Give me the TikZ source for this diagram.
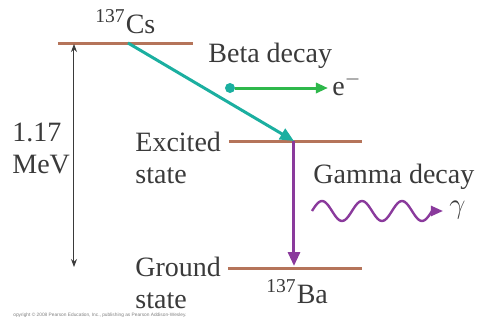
\documentclass[tikz,border=0pt]{standalone}
\usepackage{fontspec}
\setmainfont{Liberation Serif}
\newfontfamily\notefont{Liberation Sans}
\usetikzlibrary{arrows.meta}
\definecolor{lvlbrown}{HTML}{B5745A}
\definecolor{betateal}{HTML}{1BAFA0}
\definecolor{elecgreen}{HTML}{2EB84B}
\definecolor{gampurple}{HTML}{8A3A9C}
\definecolor{ink}{HTML}{3A3A3A}

\begin{document}
\begin{tikzpicture}[x=0.5pt,y=-0.5pt,
  lbl/.style={inner sep=0pt, anchor=base west, text=ink, font=\fontsize{14}{15.7}\selectfont},
  twoline/.style={lbl, anchor=north west, align=left},
  lvl/.style={lvlbrown, line width=1.5pt},
  bigtip/.style={-{Triangle[length=7pt,width=6pt]}}]
  \useasboundingbox (0,0) rectangle (484,322);
  % energy levels
  \coordinate (csL) at (58,43);   \coordinate (csR) at (193,43);
  \coordinate (exL) at (229,141); \coordinate (exR) at (362,141);
  \coordinate (gdL) at (228,268); \coordinate (gdR) at (362,268);
  \draw[lvl] (csL) -- (csR);
  \draw[lvl] (exL) -- (exR);
  \draw[lvl] (gdL) -- (gdR);
  \coordinate (csD) at (128,43);
  \coordinate (exD) at (294,141);
  \coordinate (gdD) at (294,266);
  % labels
  \node[lbl] (cs) at (95,33) {\textsuperscript{137}Cs};
  \node[lbl] (ba) at (266,303) {\textsuperscript{137}Ba};
  \node[twoline] (mev) at (12,123) {1.17\\MeV};
  \node[twoline] (excited) at (135,132) {Excited\\state};
  \node[twoline] (ground) at (135,257) {Ground\\state};
  \node[lbl] (beta) at (208,62) {Beta decay};
  \node[lbl] (gamma) at (313,183) {Gamma decay};
  % energy gap
  \coordinate (gapT) at (74,44);
  \coordinate (gapB) at (74,267);
  \draw[{Stealth[length=4pt,width=3pt]}-{Stealth[length=4pt,width=3pt]}, line width=0.5pt, ink] (gapT) -- (gapB);
  % beta decay
  \draw[betateal, line width=1.5pt, bigtip] (csD) -- (exD);
  \node[circle, fill=betateal, inner sep=0pt, minimum size=5pt] (edot) at (230,88) {};
  \coordinate (etip) at (328,88);
  \draw[elecgreen, line width=1.5pt, -{Triangle[length=6pt,width=5pt]}] (edot) -- (etip);
  \node[lbl] (elec) at (332,95) {e$^-$};
  % gamma decay
  \draw[gampurple, line width=1.5pt, bigtip] (exD) -- (gdD);
  \coordinate (wavetip) at (443,211);
  \draw[gampurple, line width=1.2pt, -{Triangle[length=6pt,width=5pt]}]
    plot[domain=0:120, samples=80, smooth] ({312+\x},{211-10*sin(9*\x)}) -- (wavetip);
  \node[lbl] (gam) at (449,213) {$\gamma$};
  \node[anchor=base west, inner sep=0pt, text=gray, font=\notefont\fontsize{2.4}{3}\selectfont] (copy) at (13,316)
    {opyright \textcopyright\ 2008 Pearson Education, Inc., publishing as Pearson Addison-Wesley.};
\end{tikzpicture}
\end{document}
